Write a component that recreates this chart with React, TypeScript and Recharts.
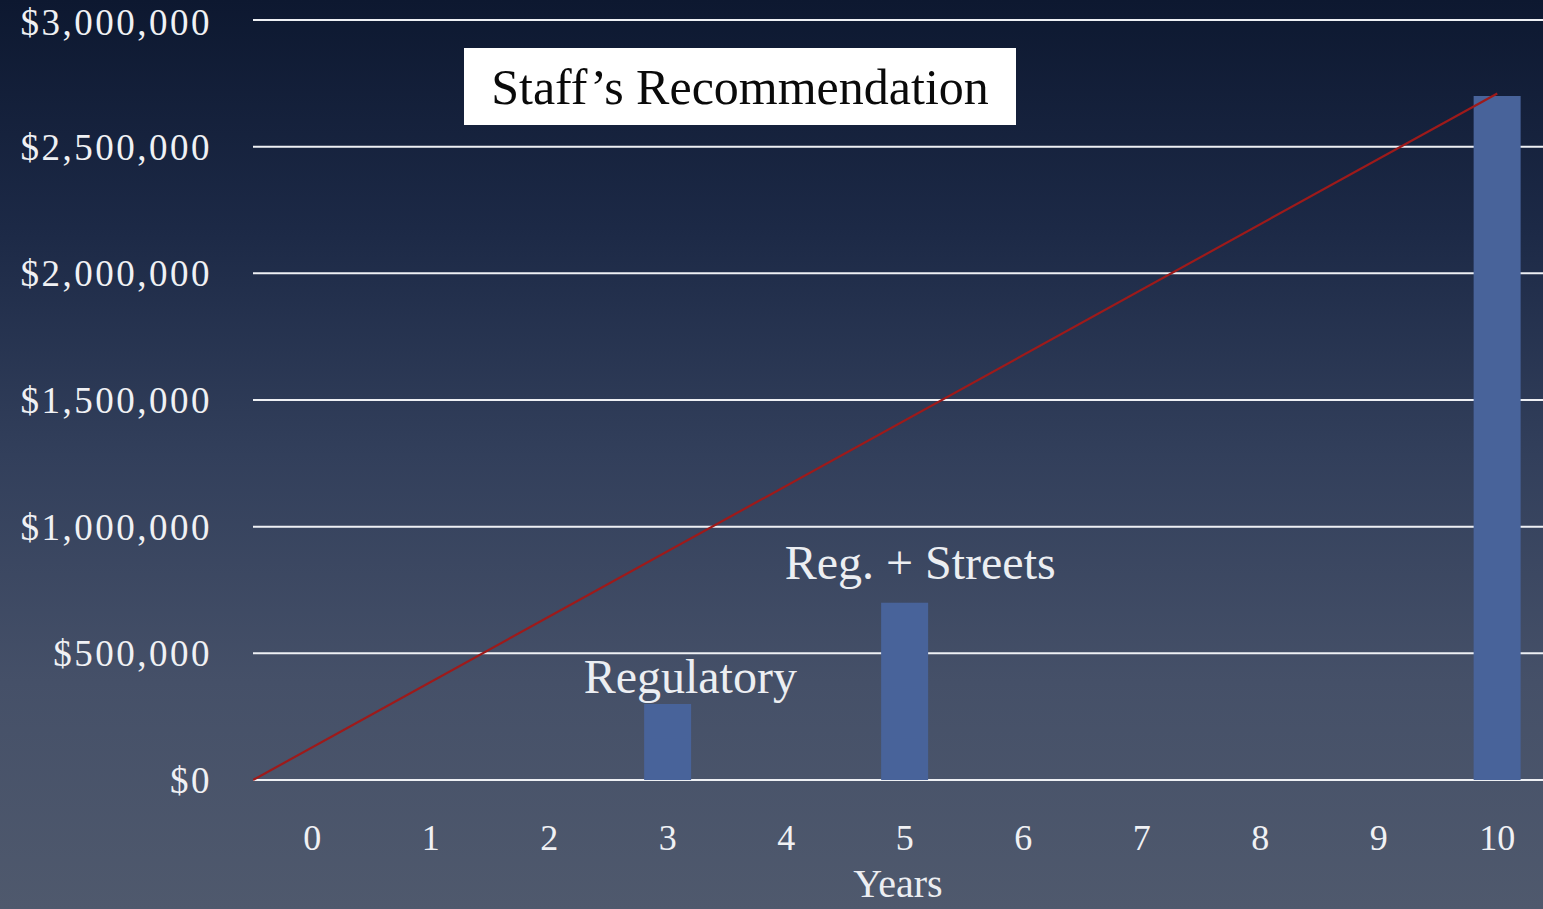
import React from "react";
import {
  ComposedChart,
  Bar,
  Line,
  XAxis,
  YAxis,
  CartesianGrid,
  ReferenceDot,
} from "recharts";

const years = [0, 1, 2, 3, 4, 5, 6, 7, 8, 9, 10];
const investment: (number | null)[] = [null, null, null, 300000, null, 700000, null, null, null, null, 2700000];
const trendYears = [-0.5, 10];
const trendValues = [0, 2710000];
const yTicks = [0, 500000, 1000000, 1500000, 2000000, 2500000, 3000000];
const title = "Staff’s Recommendation";
const notes = [
  { x: 3.19, y: 407000, text: "Regulatory" },
  { x: 5.13, y: 857000, text: "Reg. + Streets" },
];

const chartData = years.map((x, i) => ({ x, cost: investment[i] }));
const trendData = trendYears.map((x, i) => ({ x, trend: trendValues[i] }));

const FONT = "'Liberation Serif', 'DejaVu Serif', serif";

const fmt = (v: number) => "$" + v.toLocaleString("en-US");

const NoteLabel = (text: string) => (props: any) => {
  const { viewBox } = props;
  const cx = viewBox.x + (viewBox.width || 0) / 2;
  const cy = viewBox.y + (viewBox.height || 0) / 2;
  return (
    <text
      x={cx}
      y={cy}
      textAnchor="middle"
      dominantBaseline="central"
      fill="#eceef2"
      fontFamily={FONT}
      fontSize={48}
    >
      {text}
    </text>
  );
};

export default function App() {
  return (
    <div
      style={{
        position: "absolute",
        left: 0,
        top: 0,
        width: 1543,
        height: 909,
        overflow: "hidden",
        background:
          "linear-gradient(to bottom, #0d1830 0%, #1c2946 25%, #323f5b 50%, #455068 75%, #4f596d 100%)",
      }}
    >
      <ComposedChart
        width={1543}
        height={909}
        data={chartData}
        margin={{ top: 20, right: 0, bottom: 49, left: 0 }}
      >
        <CartesianGrid horizontal vertical={false} stroke="#eef0f4" strokeWidth={2} />
        <XAxis
          dataKey="x"
          type="number"
          domain={[-0.5, 10.386]}
          ticks={years}
          allowDataOverflow
          axisLine={false}
          tickLine={false}
          tickSize={0}
          tickMargin={44}
          height={80}
          tick={{ fill: "#f0f1f4", fontSize: 36, fontFamily: FONT }}
          label={{
            value: "Years",
            position: "bottom",
            offset: 9,
            fill: "#eceef2",
            fontSize: 40,
            fontFamily: FONT,
          }}
        />
        <YAxis
          type="number"
          domain={[0, 3000000]}
          ticks={yTicks}
          width={253}
          axisLine={false}
          tickLine={false}
          tickSize={0}
          tickMargin={41}
          tickFormatter={fmt}
          tick={{ fill: "#f0f1f4", fontSize: 37, fontFamily: FONT, letterSpacing: 2.5 }}
        />
        <Bar dataKey="cost" barSize={47} fill="#48639a" isAnimationActive={false} />
        <Line
          data={trendData}
          dataKey="trend"
          stroke="#9e1a1a"
          strokeWidth={2.2}
          dot={false}
          activeDot={false}
          isAnimationActive={false}
        />
        {notes.map((n) => (
          <ReferenceDot
            key={n.text}
            x={n.x}
            y={n.y}
            r={0}
            fill="none"
            stroke="none"
            label={NoteLabel(n.text)}
          />
        ))}
      </ComposedChart>
      <div
        style={{
          position: "absolute",
          left: 464,
          top: 48,
          width: 552,
          height: 77,
          background: "#ffffff",
          display: "flex",
          alignItems: "center",
          justifyContent: "center",
          fontFamily: FONT,
          fontSize: 50,
          color: "#0a0a0a",
        }}
      >
        {title}
      </div>
    </div>
  );
}
